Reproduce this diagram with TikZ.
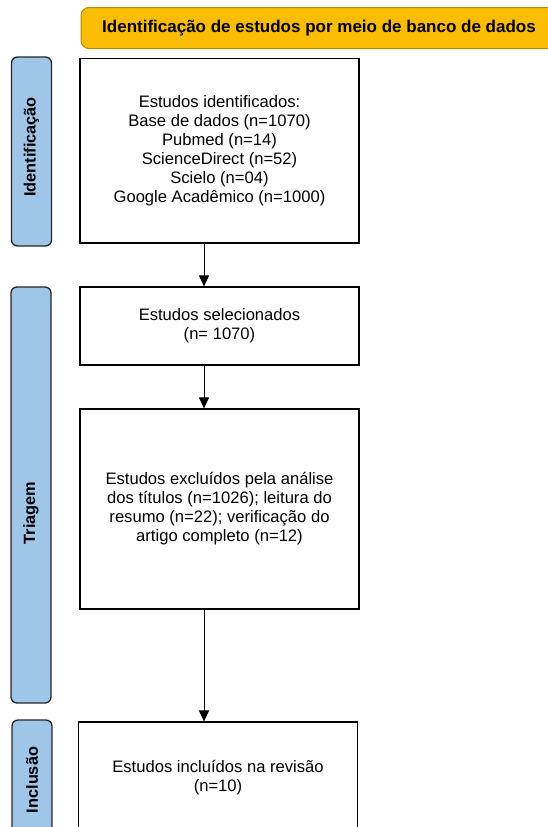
\documentclass[tikz,border=0pt]{standalone}
\usepackage{fontspec}
\setmainfont{Liberation Sans}
\newfontfamily\sidefont{Liberation Sans}
\usetikzlibrary{arrows.meta}
\definecolor{hdr}{HTML}{FBBC04}
\definecolor{hdrline}{HTML}{B58A00}
\definecolor{sidefill}{HTML}{9FC5E8}
\begin{document}
\begin{tikzpicture}[x=1pt,y=-1pt,
  box/.style={draw=black,line width=1.2pt,fill=white,minimum width=279pt,align=center,font=\fontsize{16.6}{19}\selectfont,inner sep=0pt},
  bar/.style={draw=black!85,line width=1.3pt,fill=sidefill,rounded corners=6pt,minimum width=40pt,inner sep=0pt},
  sidelabel/.style={rotate=90,font=\sidefont\bfseries\fontsize{16.3}{18}\selectfont,inner sep=0pt},
  arr/.style={line width=1pt,-{Triangle[width=10pt,length=11pt]}}]
\useasboundingbox (0,0) rectangle (548,827);
% header
\node[draw=hdrline,line width=1pt,fill=hdr,rounded corners=8pt,minimum width=476pt,minimum height=41pt,inner sep=0pt,font=\bfseries\fontsize{17}{18}\selectfont] (hdr) at (319,28) {Identificação de estudos por meio de banco de dados};
% side bars
\node[bar,minimum height=189pt] (sb1) at (31.5,151.5) {};
\node[sidelabel] (sl1) at (31.5,147) {Identificação};
\node[bar,minimum height=416pt] (sb2) at (31,495) {};
\node[sidelabel] (sl2) at (31,513) {Triagem};
\node[bar,minimum height=130pt] (sb3) at (32,785) {};
\node[sidelabel] (sl3) at (32,780) {Inclusão};
% boxes
\node[box,minimum height=184.5pt] (b1) at (219.5,150.75) {Estudos identificados:\\Base de dados (n=1070)\\Pubmed (n=14)\\ScienceDirect (n=52)\\Scielo (n=04)\\Google Acadêmico (n=1000)};
\node[box,minimum height=78pt] (b2) at (219.5,326) {Estudos selecionados\\(n= 1070)};
\node[box,minimum height=200pt] (b3) at (219.5,509) {Estudos excluídos pela análise\\dos títulos (n=1026); leitura do\\resumo (n=22); verificação do\\artigo completo (n=12)};
\node[box,minimum height=128pt] (b4) at (218,786) {Estudos incluídos na revisão\\(n=10)\\[2pt]};
% arrows
\coordinate (ax) at (204,0);
\draw[arr] (b1.south -| ax) -- (b2.north -| ax);
\draw[arr] (b2.south -| ax) -- (b3.north -| ax);
\draw[arr] (b3.south -| ax) -- (b4.north -| ax);
\end{tikzpicture}
\end{document}
